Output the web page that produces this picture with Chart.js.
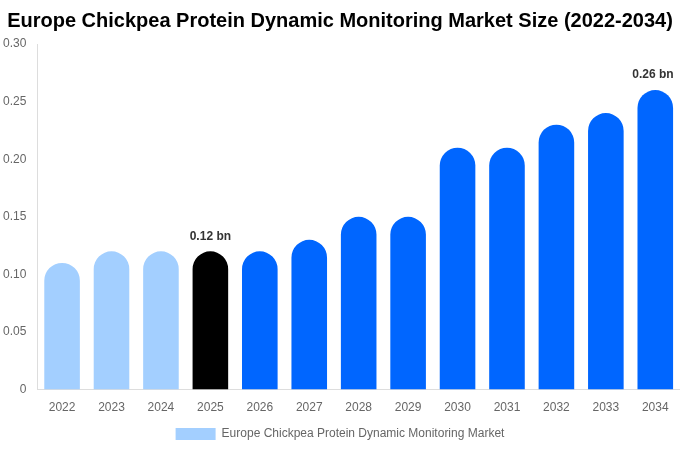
<!DOCTYPE html>
<html>
<head>
<meta charset="utf-8">
<script src="https://cdn.jsdelivr.net/npm/chart.js@4"></script>
<style>
  html, body { margin: 0; padding: 0; background: #fff; }
  #wrap { width: 680px; height: 450px; }
</style>
</head>
<body>
<div id="wrap"><canvas id="chart"></canvas></div>
<script>
const years = ['2022', '2023', '2024', '2025', '2026', '2027', '2028', '2029', '2030', '2031', '2032', '2033', '2034'];
const marketSize = [0.11, 0.12, 0.12, 0.12, 0.12, 0.13, 0.15, 0.15, 0.21, 0.21, 0.23, 0.24, 0.26];
const barColors = ['#a3cfff', '#a3cfff', '#a3cfff', '#000000', '#0066ff', '#0066ff', '#0066ff', '#0066ff', '#0066ff', '#0066ff', '#0066ff', '#0066ff', '#0066ff'];
const labelledYears = ['2025', '2034'];

// value labels over the highlighted bars
const valueLabels = {
  id: 'valueLabels',
  afterDatasetsDraw(chart) {
    const ctx = chart.ctx;
    const meta = chart.getDatasetMeta(0);
    ctx.save();
    ctx.font = 'bold 12px "Liberation Sans", Arial, sans-serif';
    ctx.fillStyle = '#333';
    ctx.textAlign = 'center';
    ctx.textBaseline = 'bottom';
    meta.data.forEach((bar, i) => {
      if (labelledYears.includes(years[i])) {
        ctx.fillText(marketSize[i].toFixed(2) + ' bn', Math.min(bar.x, chart.width - 27), bar.y - 9);
      }
    });
    ctx.restore();
  }
};

new Chart('chart', {
  type: 'bar',
  data: {
    labels: years,
    datasets: [{
      label: 'Europe Chickpea Protein Dynamic Monitoring Market',
      data: marketSize,
      backgroundColor: barColors,
      borderRadius: 100,
      borderSkipped: 'bottom'
    }]
  },
  options: {
    responsive: true,
    maintainAspectRatio: false,
    animation: false,
    layout: { padding: 0 },
    plugins: {
      title: {
        display: true,
        text: 'Europe Chickpea Protein Dynamic Monitoring Market Size (2022-2034)',
        color: '#000',
        font: { family: '"Liberation Sans", Arial, sans-serif', size: 20, weight: 'bold' },
        padding: { top: 9, bottom: 11 }
      },
      legend: {
        position: 'bottom',
        labels: {
          color: '#666',
          boxWidth: 40,
          boxHeight: 12,
          font: { family: '"Liberation Sans", Arial, sans-serif', size: 12 },
          generateLabels: () => [{
            text: 'Europe Chickpea Protein Dynamic Monitoring Market',
            fillStyle: '#a3cfff',
            strokeStyle: '#a3cfff',
            fontColor: '#666',
            lineWidth: 0,
            datasetIndex: 0
          }]
        }
      },
      tooltip: { enabled: false }
    },
    scales: {
      x: {
        grid: { display: false },
        border: { color: '#ddd' },
        ticks: { color: '#666', font: { family: '"Liberation Sans", Arial, sans-serif', size: 12 } }
      },
      y: {
        min: 0,
        max: 0.30,
        grid: { display: false },
        border: { color: '#ddd' },
        ticks: {
          stepSize: 0.05,
          color: '#666',
          font: { family: '"Liberation Sans", Arial, sans-serif', size: 12 },
          callback: v => v === 0 ? '0' : v.toFixed(2)
        }
      }
    }
  },
  plugins: [valueLabels]
});
</script>
</body>
</html>
